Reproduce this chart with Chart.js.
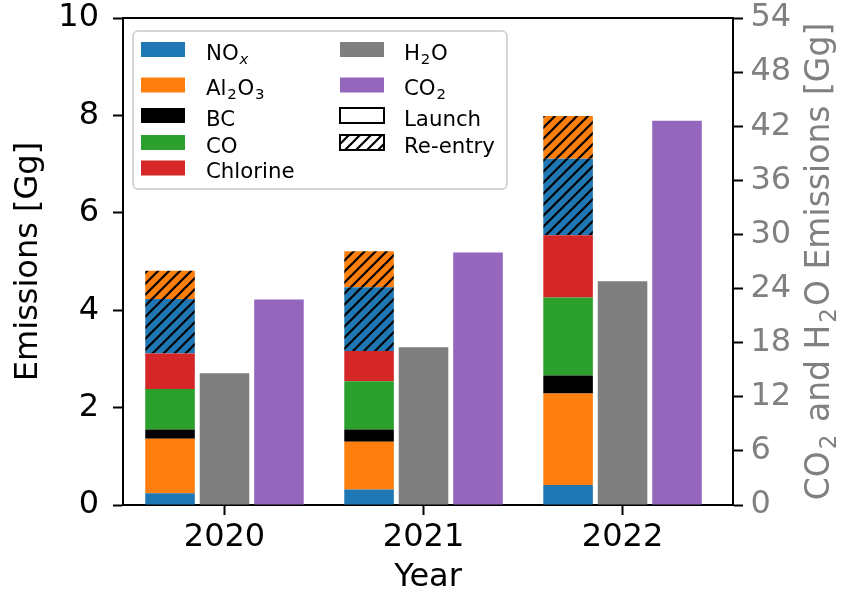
<!DOCTYPE html>
<html>
<head>
<meta charset="utf-8">
<title>Emissions</title>
<script src="https://cdn.jsdelivr.net/npm/chart.js@4.4.1/dist/chart.umd.min.js"></script>
<style>
  body { margin: 0; background: #fff; }
  #wrap { width: 841px; height: 594px; }
</style>
</head>
<body>
<div id="wrap"><canvas id="mycanvas" width="841" height="594"></canvas></div>
<script>
var years = [2020, 2021, 2022];

// launch emissions [Gg] (left axis)
var noxLaunch = [0.24, 0.32, 0.41];
var al2o3Launch = [1.12, 0.98, 1.88];
var bcLaunch = [0.19, 0.25, 0.37];
var coLaunch = [0.83, 0.99, 1.60];
var chlorineLaunch = [0.73, 0.62, 1.28];

// re-entry emissions [Gg] (left axis)
var noxReentry = [1.12, 1.31, 1.57];
var al2o3Reentry = [0.58, 0.74, 0.88];

// right axis [Gg]
var h2o = [14.6, 17.5, 24.8];
var co2 = [22.8, 28.0, 42.6];

var leftMax = 10, leftStep = 2;
var rightMax = 54, rightStep = 6;

var FONT = 'DejaVu Sans';
Chart.defaults.font.family = FONT;
Chart.defaults.color = '#000';

var BLUE = '#1f77b4', ORANGE = '#ff7f0e', GREEN = '#2ca02c', RED = '#d62728',
    GREY = '#7f7f7f', PURPLE = '#9467bd';

function hatch(color) {
    var p = 11;
    var c = document.createElement('canvas');
    c.width = p; c.height = p;
    var g = c.getContext('2d');
    g.fillStyle = color;
    g.fillRect(0, 0, p, p);
    g.strokeStyle = '#000';
    g.lineWidth = 2.2;
    [0, p, 2 * p].forEach(function (k) {
        g.beginPath();
        g.moveTo(-2, k + 2);
        g.lineTo(p + 2, k - p - 2);
        g.stroke();
    });
    return g.createPattern(c, 'repeat');
}

function bar(label, values, color, stack, axis) {
    return {
        label: label,
        data: years.map(function (yr, i) { return {x: yr, y: values[i]}; }),
        backgroundColor: color,
        stack: stack,
        yAxisID: axis,
        borderWidth: 0
    };
}

// text with "_c" subscripts, as matplotlib mathtext
function drawRich(ctx, text, x, y, size, align, gap) {
    gap = gap || 0;
    var parts = [];
    text.split(/(_.)/).forEach(function (p) {
        if (!p) return;
        if (p[0] === '_') parts.push({t: p[1], sub: true});
        else parts.push({t: p, sub: false});
    });
    function fontFor(p) {
        return (p.sub && p.t === 'x' ? 'italic ' : '') + (p.sub ? size * 0.7 : size) + 'px "' + FONT + '"';
    }
    var w = 0;
    parts.forEach(function (p) {
        ctx.font = fontFor(p);
        p.w = ctx.measureText(p.t).width + (p.sub ? gap : 0);
        w += p.w;
    });
    var cx = align === 'center' ? x - w / 2 : x;
    ctx.textAlign = 'left';
    ctx.textBaseline = 'alphabetic';
    parts.forEach(function (p) {
        ctx.font = fontFor(p);
        ctx.fillText(p.t, cx + (p.sub ? gap / 2 : 0), p.sub ? y + size * 0.2 : y);
        cx += p.w;
    });
}

var legendLeft = [
    {label: 'NO_x', fill: BLUE},
    {label: 'Al_2O_3', fill: ORANGE},
    {label: 'BC', fill: '#000'},
    {label: 'CO', fill: GREEN},
    {label: 'Chlorine', fill: RED}
];
var legendRight = [
    {label: 'H_2O', fill: GREY},
    {label: 'CO_2', fill: PURPLE},
    {label: 'Launch', fill: '#fff', edge: true},
    {label: 'Re-entry', fill: hatch('#fff'), edge: true}
];

var extras = {
    id: 'extras',
    afterDraw: function (chart) {
        var ctx = chart.ctx, ca = chart.chartArea;
        ctx.save();

        // top spine
        ctx.strokeStyle = '#000';
        ctx.lineWidth = 2;
        ctx.beginPath();
        ctx.moveTo(ca.left - 1, ca.top);
        ctx.lineTo(ca.right + 1, ca.top);
        ctx.stroke();

        // legend frame
        var fx = ca.left + 10, fy = ca.top + 13, fw = 374, fh = 158;
        ctx.beginPath();
        ctx.roundRect(fx, fy, fw, fh, 5);
        ctx.fillStyle = 'rgba(255,255,255,0.8)';
        ctx.fill();
        ctx.strokeStyle = '#d6d6d6';
        ctx.lineWidth = 2;
        ctx.stroke();

        var rows = [49.5, 85, 115.5, 142.5, 168];
        var fs = 21.3;
        function column(items, px, tx) {
            items.forEach(function (it, i) {
                var cy = rows[i] - 18 + ca.top;
                ctx.fillStyle = it.fill;
                ctx.fillRect(px, cy - 7.5, 44, 15);
                if (it.edge) {
                    ctx.strokeStyle = '#000';
                    ctx.lineWidth = 2;
                    ctx.strokeRect(px, cy - 7.5, 44, 15);
                }
                ctx.fillStyle = '#000';
                drawRich(ctx, it.label, tx, cy + 10, fs, 'left', 1.5);
            });
        }
        column(legendLeft, ca.left + 18, ca.left + 83);
        column(legendRight, ca.left + 217, ca.left + 281);

        // right axis title, reading bottom to top
        ctx.translate(829, (ca.top + ca.bottom) / 2);
        ctx.rotate(-Math.PI / 2);
        ctx.fillStyle = 'gray';
        drawRich(ctx, 'CO_2 and H_2O Emissions [Gg]', 0, 0, 33, 'center', 4);
        ctx.restore();
    }
};

var axisLine = {color: '#000', width: 2};
var tickGrid = {drawOnChartArea: false, offset: false, tickLength: 10, tickWidth: 2, tickColor: '#000'};

function fixWidth(w) {
    return function (s) { s.width = w; s.paddingTop = 0; s.paddingBottom = 0; };
}

var ctx = document.getElementById('mycanvas');

var GenericGraph = new Chart(ctx, {
    type: 'bar',
    data: {
        datasets: [
            bar('NOx launch', noxLaunch, BLUE, 'emis', 'y'),
            bar('Al2O3 launch', al2o3Launch, ORANGE, 'emis', 'y'),
            bar('BC', bcLaunch, '#000', 'emis', 'y'),
            bar('CO', coLaunch, GREEN, 'emis', 'y'),
            bar('Chlorine', chlorineLaunch, RED, 'emis', 'y'),
            bar('NOx re-entry', noxReentry, hatch(BLUE), 'emis', 'y'),
            bar('Al2O3 re-entry', al2o3Reentry, hatch(ORANGE), 'emis', 'y'),
            bar('H2O', h2o, GREY, 'h2o', 'y2'),
            bar('CO2', co2, PURPLE, 'co2', 'y2')
        ]
    },
    options: {
        responsive: false,
        animation: false,
        categoryPercentage: 0.821,
        barPercentage: 0.91,
        layout: {padding: {top: 18, left: 0, right: 0, bottom: 0}},
        plugins: {legend: {display: false}, tooltip: {enabled: false}},
        scales: {
            x: {
                type: 'linear',
                offset: false,
                min: 2019.49,
                max: 2022.555,
                afterBuildTicks: function (s) { s.ticks = years.map(function (v) { return {value: v}; }); },
                afterFit: function (s) { s.height = 89; s.paddingLeft = 0; s.paddingRight = 0; },
                grid: tickGrid,
                border: axisLine,
                ticks: {font: {size: 32}, color: '#000', padding: 3, callback: function (v) { return String(v); }},
                title: {display: true, text: 'Year', color: '#000', font: {size: 32, lineHeight: 1}, padding: 0}
            },
            y: {
                position: 'left',
                stacked: true,
                min: 0,
                max: leftMax,
                afterFit: fixWidth(123),
                grid: tickGrid,
                border: axisLine,
                ticks: {stepSize: leftStep, autoSkip: false, font: {size: 32}, color: '#000', padding: 14},
                title: {display: true, text: 'Emissions [Gg]', color: '#000', font: {size: 32, lineHeight: 1}, padding: {top: 13, bottom: 0}}
            },
            y2: {
                position: 'right',
                stacked: true,
                min: 0,
                max: rightMax,
                afterFit: fixWidth(108),
                grid: tickGrid,
                border: axisLine,
                ticks: {stepSize: rightStep, autoSkip: false, font: {size: 32}, color: 'gray', padding: 7.5}
            }
        }
    },
    plugins: [extras]
});
</script>
</body>
</html>
